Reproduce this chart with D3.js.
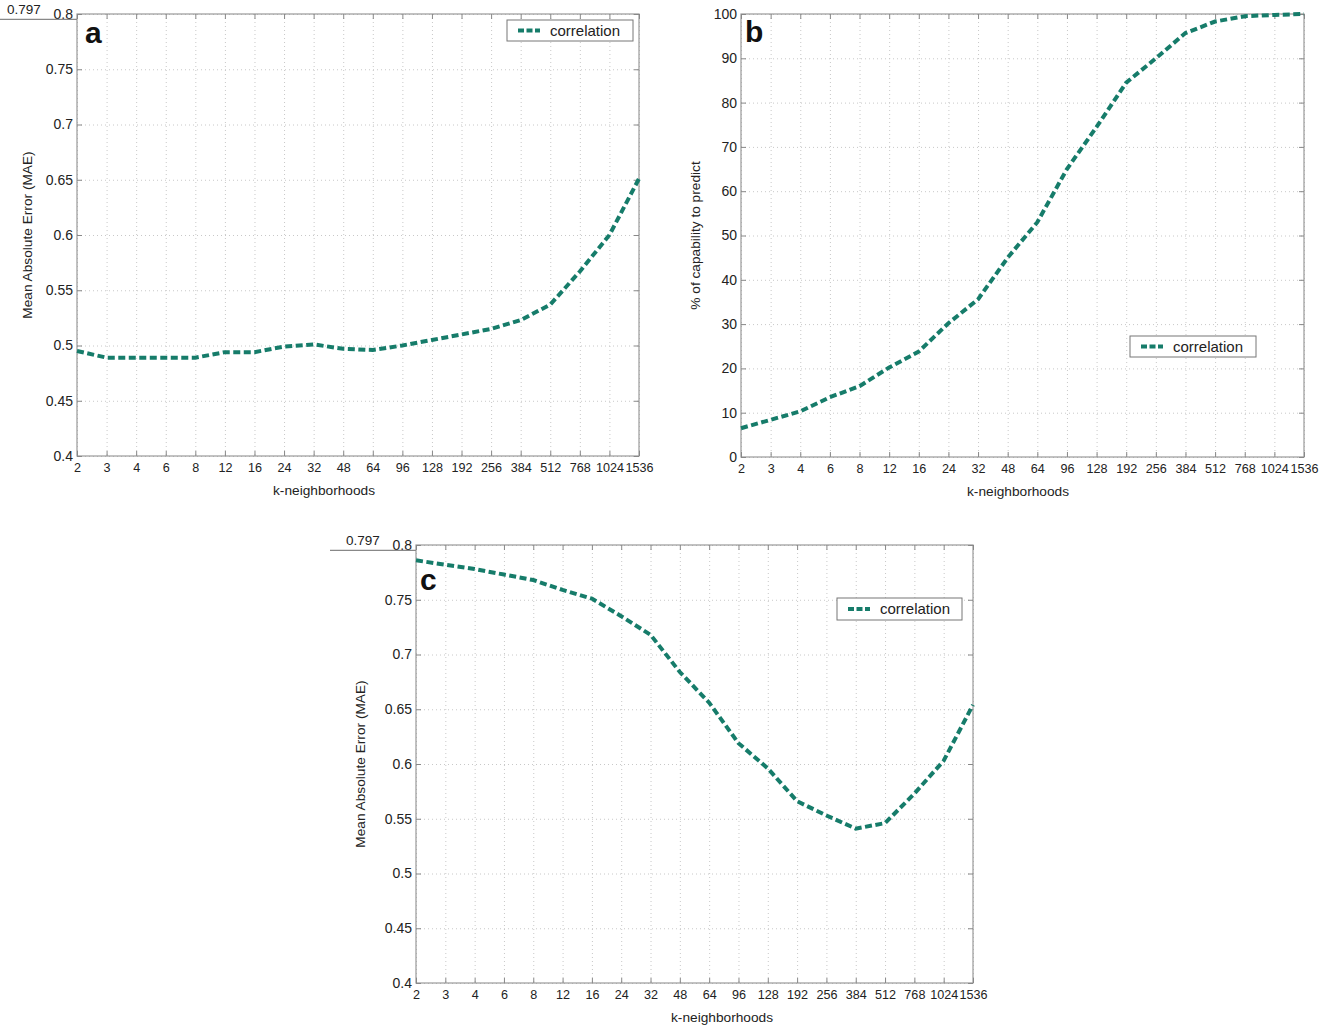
<!DOCTYPE html>
<html>
<head>
<meta charset="utf-8">
<script src="https://cdn.jsdelivr.net/npm/d3@7"></script>
<style>
body { margin: 0; background: #fff; }
text { font-family: "Liberation Sans", Arial, sans-serif; fill: #222; }
.grid line { stroke: #c8c8c8; stroke-dasharray: 1,3; }
.grid path { display: none; }
.ax path { display: none; }
.ax line { stroke: #888; }
</style>
</head>
<body>
<script>

var K_LABELS = ["2","3","4","6","8","12","16","24","32","48","64","96","128","192","256","384","512","768","1024","1536"];

var MAE_A = [0.495, 0.489, 0.489, 0.489, 0.489, 0.494, 0.494, 0.499, 0.501, 0.497,
             0.496, 0.500, 0.505, 0.510, 0.515, 0.523, 0.537, 0.567, 0.600, 0.651];

var CAPABILITY_B = [6.5, 8.4, 10.3, 13.5, 16, 20.2, 23.8, 30.2, 35.6, 45,
                    53, 65, 74.5, 84.5, 90, 95.7, 98.3, 99.5, 99.8, 100];

var MAE_C = [0.786, 0.782, 0.778, 0.773, 0.768, 0.759, 0.751, 0.735, 0.718, 0.684,
             0.656, 0.619, 0.596, 0.566, 0.553, 0.541, 0.546, 0.573, 0.603, 0.654];

var MAE_TICKS = [0.4, 0.45, 0.5, 0.55, 0.6, 0.65, 0.7, 0.75, 0.8];
var PCT_TICKS = [0, 10, 20, 30, 40, 50, 60, 70, 80, 90, 100];

var MARKER = 0.797;
var SERIES_NAME = "correlation";
var X_TITLE = "k-neighborhoods";

var LINE_COLOR = "#167c6a";

var width = 1333,
    height = 1030;

var svg = d3.select("body").append("svg")
    .attr("width", width)
    .attr("height", height);

// matlab style labels: 0.8, 0.75, 0.7 ...
function plain(d) { return String(d); }

var panels = [
    { id: "a", values: MAE_A, ticks: MAE_TICKS, domain: [0.4, 0.8], marker: true,
      left: 77, top: 14, right: 639, bottom: 456,
      yTitle: "Mean Absolute Error (MAE)", yTitleOff: 45, xTitleAt: 324,
      letter: [8, 29], legend: [507, 20, 126, 21] },
    { id: "b", values: CAPABILITY_B, ticks: PCT_TICKS, domain: [0, 100], marker: false,
      left: 741, top: 14, right: 1304, bottom: 457,
      yTitle: "% of capability to predict", yTitleOff: 41, xTitleAt: 1018,
      letter: [4, 28], legend: [1130, 336, 126, 21] },
    { id: "c", values: MAE_C, ticks: MAE_TICKS, domain: [0.4, 0.8], marker: true,
      left: 416, top: 545, right: 973, bottom: 983,
      yTitle: "Mean Absolute Error (MAE)", yTitleOff: 51, xTitleAt: 722,
      letter: [4, 45], legend: [837, 598, 125, 22] }
];

panels.forEach(drawPanel);

function drawPanel(p) {
    var w = p.right - p.left,
        h = p.bottom - p.top;

    var x = d3.scalePoint().domain(K_LABELS).range([0, w]);
    var y = d3.scaleLinear().domain(p.domain).range([h, 0]);

    var g = svg.append("g").attr("transform", "translate(" + p.left + "," + p.top + ")");

    // dotted grid
    g.append("g").attr("class", "grid")
        .call(d3.axisBottom(x).tickSize(h).tickFormat(""));
    g.append("g").attr("class", "grid")
        .call(d3.axisLeft(y).tickValues(p.ticks).tickSize(-w).tickFormat(""));

    // frame
    g.append("rect")
        .attr("width", w).attr("height", h)
        .attr("fill", "none").attr("stroke", "#999").attr("stroke-width", 1.2);

    // inner ticks on all four sides
    var bottom = g.append("g").attr("class", "ax")
        .attr("transform", "translate(0," + h + ")")
        .call(d3.axisBottom(x).tickSize(-5).tickPadding(7));
    bottom.selectAll("text").attr("font-size", 12.6);

    g.append("g").attr("class", "ax")
        .call(d3.axisTop(x).tickSize(-5).tickFormat(""));

    var left = g.append("g").attr("class", "ax")
        .call(d3.axisLeft(y).tickValues(p.ticks).tickFormat(plain).tickSize(-5).tickPadding(4));
    left.selectAll("text").attr("font-size", 14);

    g.append("g").attr("class", "ax")
        .attr("transform", "translate(" + w + ",0)")
        .call(d3.axisRight(y).tickValues(p.ticks).tickSize(-5).tickFormat(""));

    // axis titles
    g.append("text")
        .attr("x", p.xTitleAt - p.left).attr("y", h + 39)
        .attr("text-anchor", "middle")
        .attr("font-size", 13.7)
        .text(X_TITLE);

    g.append("text")
        .attr("transform", "translate(" + (-p.yTitleOff) + "," + (h / 2) + ") rotate(-90)")
        .attr("text-anchor", "middle")
        .attr("font-size", 13.7)
        .text(p.yTitle);

    // the 0.797 mark left of the axis
    if (p.marker) {
        var ym = y(MARKER);
        g.append("line")
            .attr("x1", Math.max(-86, -p.left)).attr("x2", 0)
            .attr("y1", ym + 2).attr("y2", ym + 2)
            .attr("stroke", "#888").attr("stroke-width", 1.2);
        g.append("text")
            .attr("x", Math.max(-70, -p.left + 6)).attr("y", ym - 3)
            .attr("font-size", 13.5)
            .text(MARKER);
    }

    // data line
    var line = d3.line()
        .x(function(d, i) { return x(K_LABELS[i]); })
        .y(function(d) { return y(d); });

    g.append("path")
        .datum(p.values)
        .attr("d", line)
        .attr("fill", "none")
        .attr("stroke", LINE_COLOR)
        .attr("stroke-width", 4)
        .attr("stroke-dasharray", "7,3.5");

    // panel letter
    g.append("text")
        .attr("x", p.letter[0]).attr("y", p.letter[1])
        .attr("font-size", 30).attr("font-weight", "bold")
        .style("fill", "#111")
        .text(p.id);

    // legend
    var lg = svg.append("g").attr("transform", "translate(" + p.legend[0] + "," + p.legend[1] + ")");
    lg.append("rect")
        .attr("width", p.legend[2]).attr("height", p.legend[3])
        .attr("fill", "#fff").attr("stroke", "#777").attr("stroke-width", 1);
    lg.append("line")
        .attr("x1", 11).attr("x2", 33)
        .attr("y1", p.legend[3] / 2).attr("y2", p.legend[3] / 2)
        .attr("stroke", LINE_COLOR).attr("stroke-width", 4)
        .attr("stroke-dasharray", "6,2.5");
    lg.append("text")
        .attr("x", 43).attr("y", p.legend[3] / 2 + 5)
        .attr("font-size", 15)
        .text(SERIES_NAME);
}

</script>
</body>
</html>
